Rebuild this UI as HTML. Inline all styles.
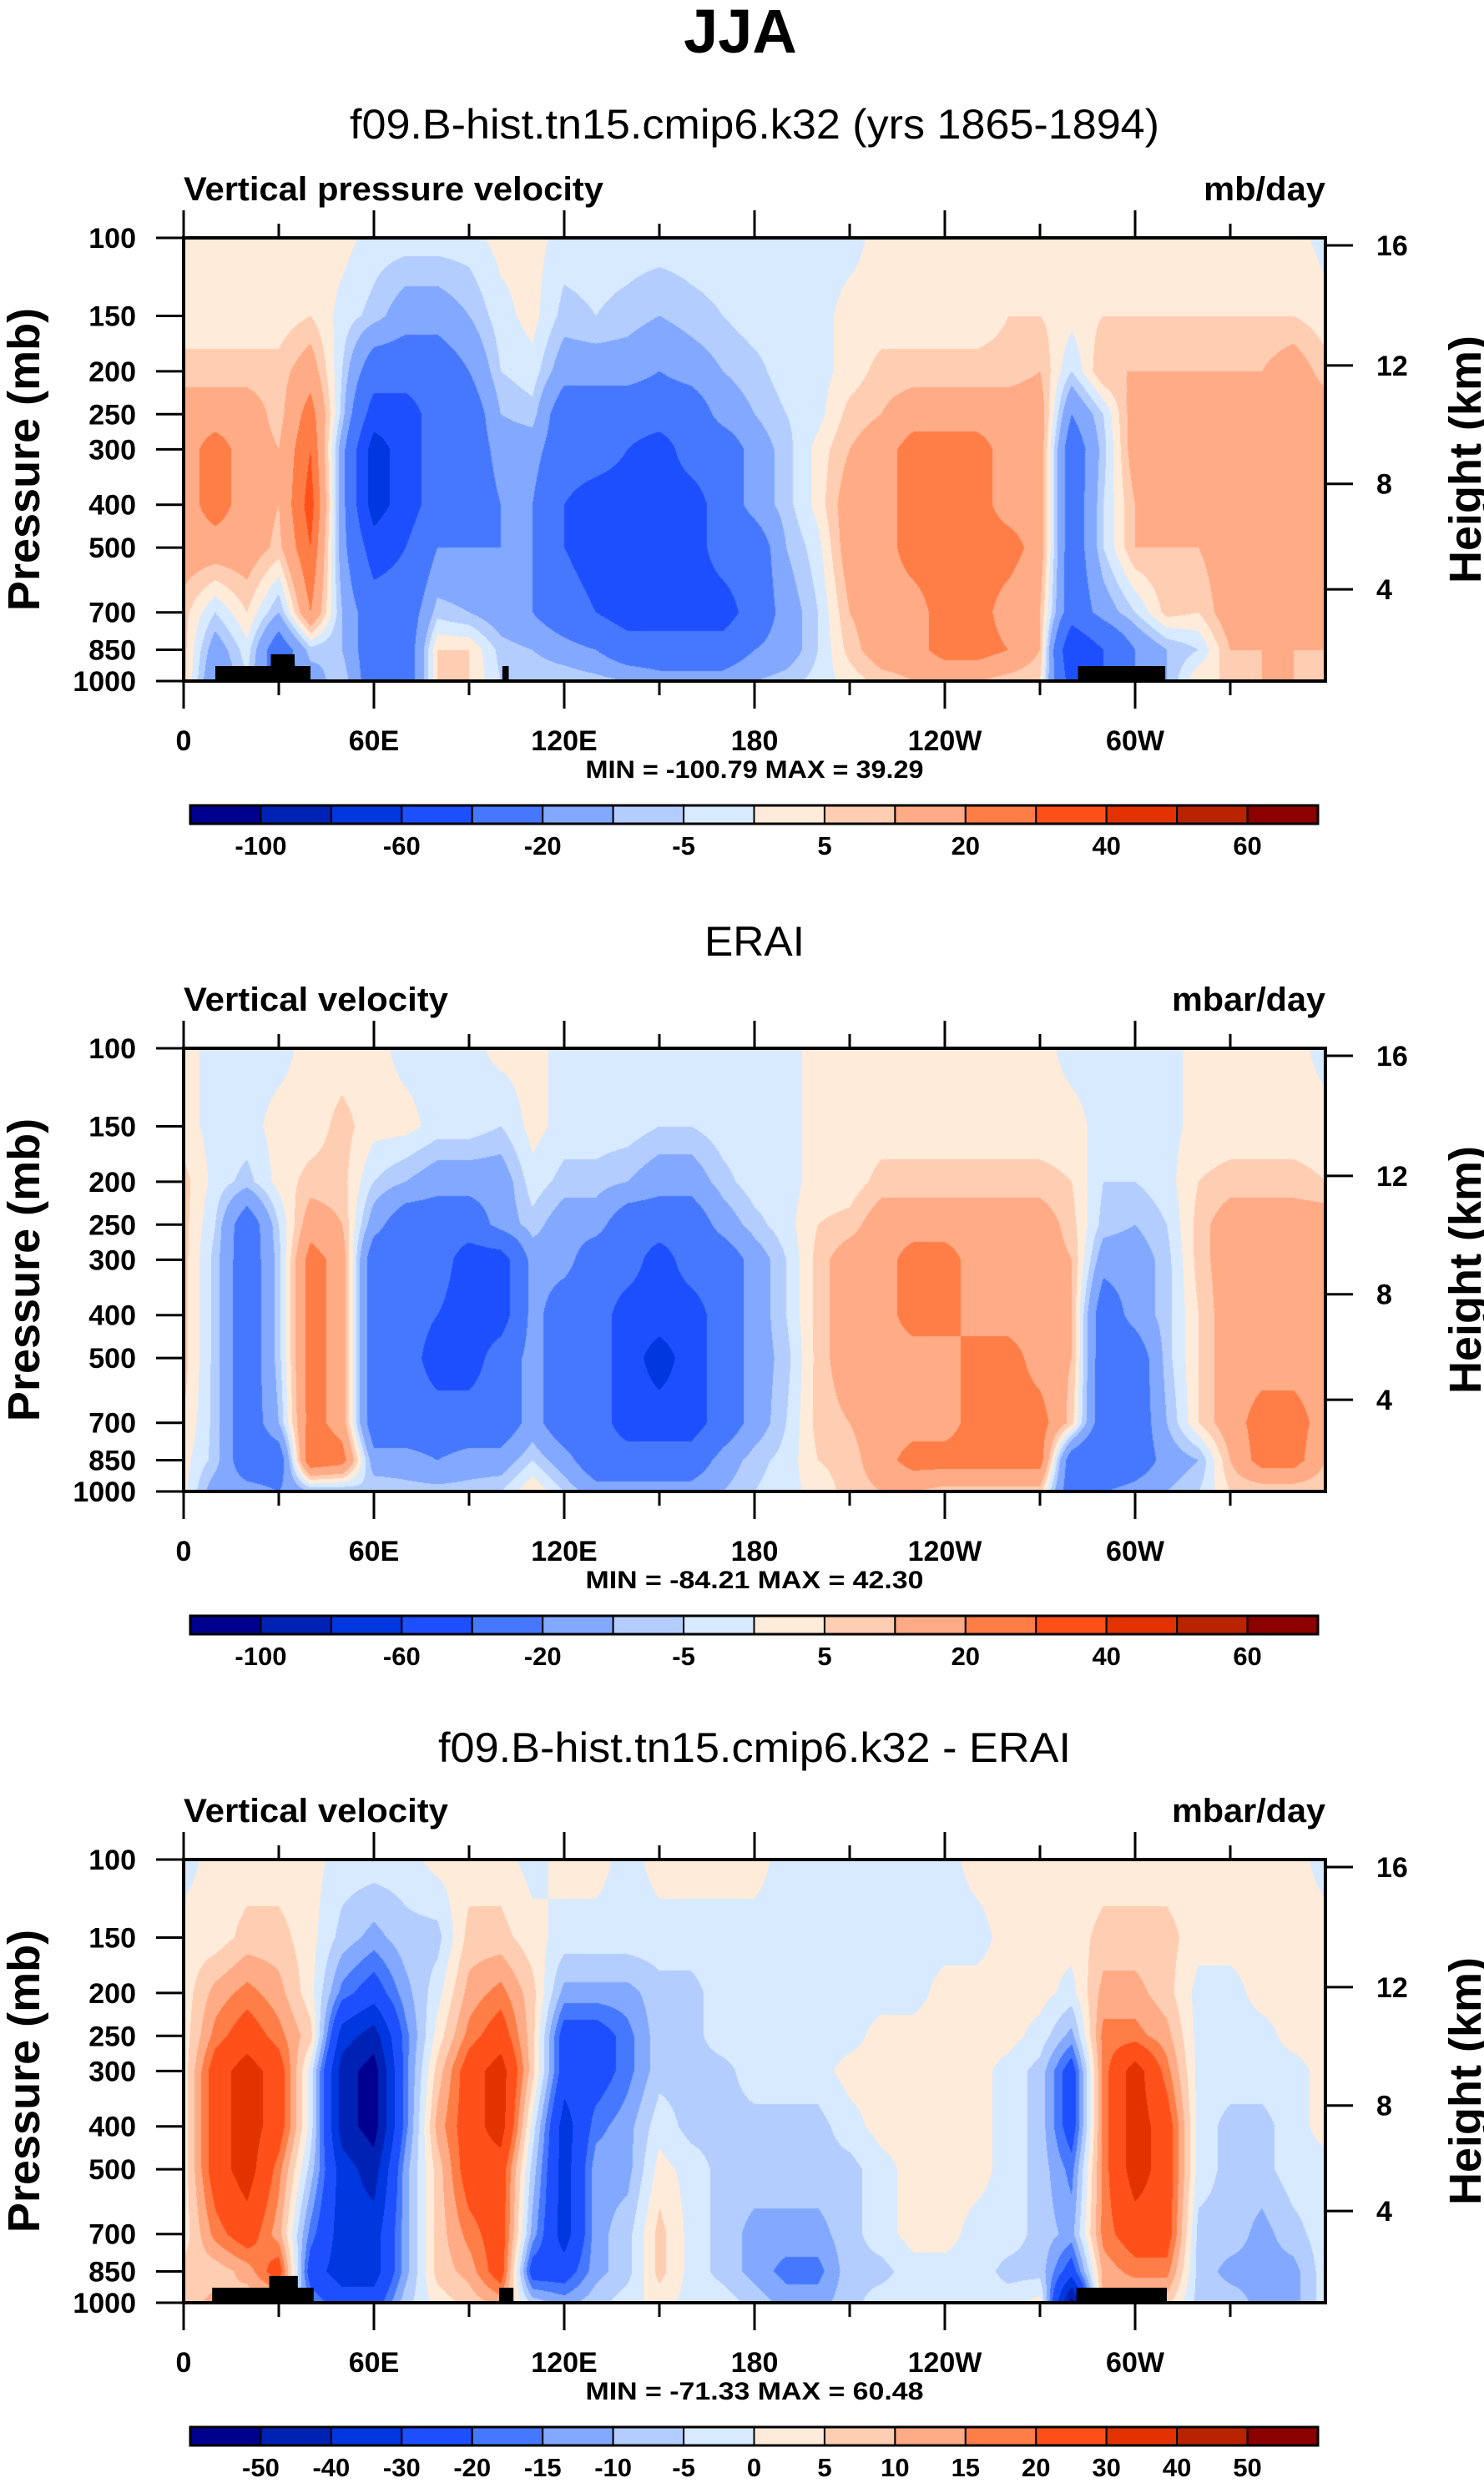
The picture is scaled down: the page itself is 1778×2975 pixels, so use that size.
<!DOCTYPE html>
<html><head><meta charset="utf-8"><style>
html,body{margin:0;padding:0;background:#fff;}
#wrap{position:relative;width:1778px;height:2975px;overflow:hidden;background:#fff;}
canvas{position:absolute;}
svg{position:absolute;left:0;top:0;}
text{font-family:"Liberation Sans",Arial,sans-serif;}
</style></head><body>
<div id="wrap">
<canvas id="c0"></canvas>
<canvas id="c1"></canvas>
<canvas id="c2"></canvas>
<svg id="svg" width="1778" height="2975">
<text x="887" y="63" font-size="74" font-weight="bold" text-anchor="middle">JJA</text>
</svg>
</div>
<script>
// ---- data ----
const levelsP = [100,150,200,250,300,400,500,700,850,1000];
const lonsDeg = [0,10,20,30,40,50,60,70,80,90,100,110,120,130,140,150,160,170,180,190,200,210,220,230,240,250,260,270,280,290,300,310,320,330,340,350,360];
// each entry: one longitude column, values at levelsP
const modelOmega = [
[2,2,7,15,15,15,15,7,7,7],
[2,2,7,15,25,25,15,-5,-15,-20],
[2,2,7,15,15,15,15,5,-2,-5],
[2,2,7,7,10,10,8,-10,-30,-30],
[2,5,15,25,30,35,30,20,-7,-15],
[2,-2,-5,-7,-15,-15,-15,-10,-10,-5],
[-2,-7,-30,-50,-70,-70,-50,-30,-30,-30],
[-2,-15,-30,-50,-50,-50,-40,-30,-30,-30],
[-2,-15,-30,-30,-30,-30,-20,-7,5,5],
[-2,-10,-20,-30,-30,-30,-20,-10,5,5],
[2,-2,-5,-10,-15,-20,-20,-15,-7,-5],
[2,2,-2,-7,-15,-20,-20,-20,-10,-5],
[-2,-7,-15,-30,-30,-40,-40,-30,-15,-5],
[-2,-5,-15,-30,-30,-50,-50,-40,-20,-7],
[-2,-7,-15,-30,-40,-50,-50,-50,-30,-10],
[-2,-10,-20,-30,-50,-50,-50,-50,-30,-15],
[-2,-7,-15,-30,-30,-50,-50,-50,-30,-15],
[-2,-5,-10,-15,-30,-30,-30,-50,-30,-15],
[-2,-2,-7,-10,-15,-15,-30,-30,-20,-10],
[-2,-2,-2,-5,-7,-7,-10,-15,-15,-7],
[-2,-2,-2,-2,2,2,-2,-5,-5,-3],
[-2,2,2,7,10,15,15,10,7,2],
[2,2,7,10,15,15,15,15,15,7],
[2,2,7,15,25,25,25,15,15,10],
[2,2,7,15,25,25,25,25,25,10],
[2,2,7,15,25,25,25,25,25,10],
[2,5,7,15,15,15,25,15,20,7],
[2,5,10,15,15,15,15,10,10,5],
[2,2,-5,-20,-30,-30,-30,-30,-60,-50],
[2,5,10,-5,-7,-5,-5,-15,-40,-40],
[2,5,10,15,15,10,10,-5,-20,-20],
[2,5,10,15,15,15,10,7,-10,-10],
[2,5,10,10,15,15,10,5,-5,5],
[2,5,10,15,15,15,15,15,10,5],
[2,5,10,15,15,15,15,15,10,10],
[2,5,15,15,15,15,15,15,10,10],
[-2,2,7,15,15,15,15,10,10,7]];
const eraiOmega = [
[2,2,7,7,7,7,7,5,2,2],
[-2,-2,-2,-5,-7,-7,-7,-7,-7,-15],
[-2,-2,-7,-30,-30,-30,-30,-30,-30,-15],
[-2,2,2,-5,-7,-7,-7,-10,-30,-20],
[2,2,7,15,25,25,25,25,30,-10],
[2,7,7,10,15,15,15,15,25,-10],
[2,2,-5,-15,-30,-30,-30,-30,-15,-5],
[-2,2,-10,-30,-30,-30,-30,-30,-15,-7],
[-2,-2,-15,-30,-30,-40,-50,-30,-20,-7],
[-2,-2,-15,-30,-50,-50,-50,-30,-15,-7],
[2,-5,-15,-15,-50,-50,-30,-30,-15,-5],
[2,2,-2,-7,-15,-15,-15,-15,-5,5],
[-2,-2,-7,-15,-15,-30,-30,-30,-15,-5],
[-2,-2,-7,-15,-30,-30,-30,-30,-30,-15],
[-2,-2,-10,-30,-30,-50,-50,-50,-30,-15],
[-2,-5,-15,-30,-50,-50,-70,-50,-30,-15],
[-2,-5,-15,-30,-30,-50,-50,-50,-30,-15],
[-2,-2,-7,-15,-30,-30,-30,-30,-15,-10],
[-2,-2,-2,-7,-15,-15,-15,-15,-7,-5],
[-2,-2,-2,-2,-5,-5,-7,-5,-3,-2],
[2,2,2,5,7,7,7,7,5,2],
[2,2,2,7,15,15,15,10,7,7],
[2,2,7,15,15,15,15,15,15,10],
[2,2,7,15,25,25,15,15,25,10],
[2,2,7,15,25,25,15,15,25,7],
[2,2,7,15,15,15,25,25,25,7],
[2,2,7,15,15,15,25,25,25,7],
[2,2,7,15,15,15,15,25,25,7],
[-2,2,5,7,10,10,10,7,-30,-30],
[-2,-2,-5,-7,-15,-30,-30,-30,-40,-20],
[-2,-2,-5,-10,-15,-15,-30,-30,-30,-15],
[-2,-2,-2,-5,-7,-7,-7,-10,-15,-10],
[2,2,5,7,7,5,5,5,-10,-5],
[2,2,7,15,15,15,15,15,10,5],
[2,2,7,15,15,15,15,25,25,5],
[2,2,7,15,15,15,15,25,25,5],
[-2,2,5,15,15,15,15,15,10,5]];
const diffOmega = [
[-2,2,2,2,2,2,2,2,7,7],
[2,2,12,17,25,25,25,17,7,12],
[2,7,17,25,35,35,35,25,12,7],
[2,7,12,17,25,25,17,12,25,7],
[2,2,2,7,-2,-2,-7,-17,-25,-15],
[-2,-7,-17,-35,-45,-45,-35,-35,-35,-25],
[-2,-12,-25,-45,-55,-55,-45,-35,-35,-25],
[-2,-7,-12,-17,-17,-17,-12,-12,-12,-7],
[2,-7,-2,2,7,12,7,7,7,2],
[2,7,12,17,25,25,25,17,12,7],
[2,7,17,25,35,35,25,25,25,12],
[-2,2,7,7,7,-2,-7,-12,-25,-7],
[2,-2,-12,-25,-25,-35,-35,-35,-25,-12],
[2,-2,-12,-25,-25,-17,-12,-12,-12,-7],
[-2,-2,-12,-17,-17,-12,-12,-7,-7,-2],
[2,-2,-7,-7,-7,-2,2,7,7,2],
[2,-2,-7,-7,-7,-7,-2,-2,-2,-2],
[2,-2,-2,-2,-7,-7,-7,-7,-7,-2],
[2,-2,-2,-2,-2,-7,-7,-12,-12,-7],
[-2,-2,-2,-2,-2,-7,-7,-12,-17,-12],
[-2,-2,-2,-2,-2,-7,-7,-12,-17,-12],
[-2,-2,-2,-2,2,-2,-7,-7,-7,-7],
[-2,-2,-2,2,2,2,-2,-2,-7,-2],
[-2,-2,-2,2,2,2,2,2,-2,-2],
[-2,-2,2,2,2,2,2,2,-2,-2],
[2,-2,2,2,2,2,2,-2,-2,-2],
[2,2,2,2,-2,-2,-2,-2,-7,-2],
[2,2,2,-2,-7,-7,-7,-7,-7,2],
[2,2,-2,-12,-25,-25,-17,-12,-25,-55],
[2,7,12,17,17,17,17,17,12,12],
[2,7,12,17,35,35,35,25,17,7],
[2,7,7,12,17,25,25,25,17,7],
[2,2,-2,-2,-2,-2,-2,-7,-7,-7],
[2,2,-2,-2,-2,-7,-7,-7,-12,-7],
[2,2,2,-2,-2,-7,-7,-12,-12,-12],
[2,2,2,2,-2,-2,-2,-7,-12,-12],
[-2,2,2,2,2,2,-2,-2,-2,-2]];
const contourLevelsAbs = [-100,-80,-60,-40,-20,-10,-5,0,5,10,20,30,40,50,60];
const contourLevelsDiff = [-50,-40,-30,-20,-15,-10,-5,0,5,10,15,20,30,40,50];
const cbLabelsAbs = ["","-100","","-60","","-20","","-5","","5","","20","","40","","60"];
const cbLabelsDiff = ["","-50","-40","-30","-20","-15","-10","-5","0","5","10","15","20","30","40","50"];
const pressureTicks = [100,150,200,250,300,400,500,700,850,1000];
const heightTicks = [16,12,8,4];
const heightFrac = [0.017,0.288,0.555,0.793];
const lonTicks = [0,60,120,180,240,300];
const lonTickLabels = ["0","60E","120E","180","120W","60W"];
// terrain blocks: [lon0, lon1, pressureTop]
const terrainModel = [[10,40,925],[27.5,35,870],[100.5,102.5,925],[282,309.5,925]];
const terrainDiff = [[9,41,925],[27,36,870],[99.5,104,925],[281.5,310,925]];
const palette = ['#00008f','#0022b4','#0037df','#1e4fff','#4678ff','#82a8ff','#b4cdff','#d7eaff','#ffebd9','#ffcdb2','#ffab85','#ff7d46','#ff5019','#e13200','#b92400','#8c0000'];

// ---- layout ----
const PL=220, PR=1588, PW=PR-PL, PH=531;
const panels = [
 {top:285, data:modelOmega, levs:contourLevelsAbs, cb:cbLabelsAbs, terrain:terrainModel, title:"f09.B-hist.tn15.cmip6.k32 (yrs 1865-1894)", titleLen:970, titleY:148, left:"Vertical pressure velocity", leftLen:503, right:"mb/day", rightLen:146, mm:"MIN = -100.79  MAX =  39.29", name:"model"},
 {top:1256, data:eraiOmega, levs:contourLevelsAbs, cb:cbLabelsAbs, terrain:[], title:"ERAI", titleLen:120, titleY:1127, left:"Vertical velocity", leftLen:317, right:"mbar/day", rightLen:184, mm:"MIN = -84.21  MAX =  42.30", name:"erai"},
 {top:2228, data:diffOmega, levs:contourLevelsDiff, cb:cbLabelsDiff, terrain:terrainDiff, title:"f09.B-hist.tn15.cmip6.k32 - ERAI", titleLen:758, titleY:2093, left:"Vertical velocity", leftLen:317, right:"mbar/day", rightLen:184, mm:"MIN = -71.33  MAX =  60.48", name:"difference"}
];
const LP0=Math.log10(100), LP1=Math.log10(1000);
function yOfP(p,top){return top+(Math.log10(p)-LP0)/(LP1-LP0)*PH;}
function xOfLon(l){return PL+l/360*PW;}
function hex(c){return [parseInt(c.substr(1,2),16),parseInt(c.substr(3,2),16),parseInt(c.substr(5,2),16)];}
const palRGB = palette.map(hex);
const logLev = levelsP.map(p=>Math.log10(p));

function drawField(ci,pan){
 const cv=document.getElementById('c'+ci);
 cv.width=PW; cv.height=PH;
 cv.style.left=PL+'px'; cv.style.top=pan.top+'px';
 const ctx=cv.getContext('2d');
 const img=ctx.createImageData(PW,PH);
 const nL=lonsDeg.length;
 const rowIdx=[],rowT=[];
 for(let y=0;y<PH;y++){
  const lp=LP0+(y+0.5)/PH*(LP1-LP0);
  let k=0; while(k<logLev.length-2 && lp>logLev[k+1]) k++;
  let t=(lp-logLev[k])/(logLev[k+1]-logLev[k]); t=Math.max(0,Math.min(1,t));
  rowIdx.push(k); rowT.push(t);
 }
 for(let x=0;x<PW;x++){
  const lon=(x+0.5)/PW*360;
  let i=0; while(i<nL-2 && lon>lonsDeg[i+1]) i++;
  const s=(lon-lonsDeg[i])/(lonsDeg[i+1]-lonsDeg[i]);
  const A=pan.data[i], B=pan.data[i+1];
  for(let y=0;y<PH;y++){
   const k=rowIdx[y], t=rowT[y];
   const v0=A[k]*(1-t)+A[k+1]*t, v1=B[k]*(1-t)+B[k+1]*t;
   const v=v0*(1-s)+v1*s;
   let b=0; while(b<pan.levs.length && v>=pan.levs[b]) b++;
   const c=palRGB[b]; const o=(y*PW+x)*4;
   img.data[o]=c[0];img.data[o+1]=c[1];img.data[o+2]=c[2];img.data[o+3]=255;
  }
 }
 ctx.putImageData(img,0,0);
}

const svg=document.getElementById('svg');
const NS='http://www.w3.org/2000/svg';
function el(tag,attrs,parent){const e=document.createElementNS(NS,tag);for(const k in attrs)e.setAttribute(k,attrs[k]);(parent||svg).appendChild(e);return e;}

panels.forEach((pan,pi)=>{
 drawField(pi,pan);
 const g=el('g',{});
 
 
 const T=pan.top, B=T+PH;
 const tt=el('text',{x:904,y:pan.titleY+18,'font-size':50,'text-anchor':'middle',textLength:pan.titleLen,lengthAdjust:'spacingAndGlyphs'},g);
 tt.textContent=pan.title;
 
 
 const lt=el('text',{x:PL,y:T-59+14,'font-size':40,'font-weight':'bold',textLength:pan.leftLen,lengthAdjust:'spacingAndGlyphs'},g);
 lt.textContent=pan.left;
 
 
 const rt=el('text',{x:PR-pan.rightLen,y:T-59+14,'font-size':40,'font-weight':'bold',textLength:pan.rightLen,lengthAdjust:'spacingAndGlyphs'},g);
 rt.textContent=pan.right;
 
 
 pan.terrain.forEach(tr=>{
  const r=el('rect',{x:xOfLon(tr[0]),y:yOfP(tr[2],T),width:xOfLon(tr[1])-xOfLon(tr[0]),height:B-yOfP(tr[2],T),fill:'#000'},g);
  
  
 });
 const bd=el('rect',{x:PL,y:T,width:PW,height:PH,fill:'none',stroke:'#000','stroke-width':4},g);
 
 
 for(let l=0;l<=330;l+=30){
  const x=xOfLon(l), len=(l%60===0)?33:17;
  el('line',{x1:x,y1:T,x2:x,y2:T-len,stroke:'#000','stroke-width':3},g);
  el('line',{x1:x,y1:B,x2:x,y2:B+len,stroke:'#000','stroke-width':3},g);
 }
 lonTicks.forEach((l,j)=>{
  const t=el('text',{x:xOfLon(l),y:T+602+12,'font-size':34,'font-weight':'bold','text-anchor':'middle'},g);
  t.textContent=lonTickLabels[j];
  
  
 });
 pressureTicks.forEach(p=>{
  const y=yOfP(p,T);
  el('line',{x1:PL,y1:y,x2:PL-33,y2:y,stroke:'#000','stroke-width':3},g);
  const t=el('text',{x:163,y:y+12,'font-size':34,'font-weight':'bold','text-anchor':'end'},g);
  t.textContent=String(p);
  
  
 });
 heightTicks.forEach((h,j)=>{
  const y=T+heightFrac[j]*PH;
  el('line',{x1:PR,y1:y,x2:PR+33,y2:y,stroke:'#000','stroke-width':3},g);
  const t=el('text',{x:1649,y:y+12,'font-size':34,'font-weight':'bold'},g);
  t.textContent=String(h);
  
  
 });
 const yt=el('text',{x:0,y:0,'font-size':54,'font-weight':'bold','text-anchor':'middle',transform:'translate(47,'+(T+PH/2)+') rotate(-90)'},g);
 yt.textContent='Pressure (mb)';
 
 
 const ht=el('text',{x:0,y:0,'font-size':54,'font-weight':'bold','text-anchor':'middle',transform:'translate(1774,'+(T+PH/2)+') rotate(-90)'},g);
 ht.textContent='Height (km)';
 
 
 const mm=el('text',{x:904,y:T+636+11,'font-size':30,'font-weight':'bold','text-anchor':'middle',textLength:405,lengthAdjust:'spacingAndGlyphs'},g);
 mm.textContent=pan.mm;
 
 
 const cx0=228,cx1=1579,cy=T+680,ch=22,cw=(cx1-cx0)/16;
 palette.forEach((c,j)=>{
  const r=el('rect',{x:cx0+j*cw,y:cy,width:cw,height:ch,fill:c,stroke:'#000','stroke-width':2},g);
  
  
 });
 el('rect',{x:cx0,y:cy,width:cx1-cx0,height:ch,fill:'none',stroke:'#000','stroke-width':3},g);
 pan.cb.forEach((lab,j)=>{
  if(!lab) return;
  const t=el('text',{x:cx0+j*cw,y:T+728+11,'font-size':31,'font-weight':'bold','text-anchor':'middle'},g);
  t.textContent=lab;
  
  
 });
});
</script>
</body></html>
